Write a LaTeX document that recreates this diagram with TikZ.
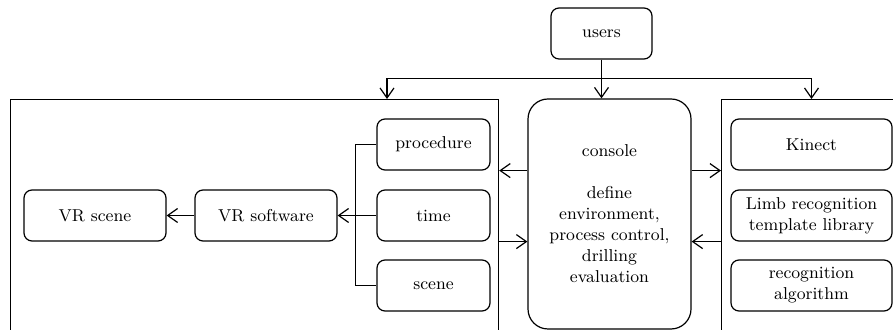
\documentclass[tikz,border=0pt]{standalone}
\usetikzlibrary{arrows.meta, positioning, calc}

\begin{document}
\begin{tikzpicture}[x=0.5pt, y=-0.5pt, line width=0.6pt,
    font=\fontsize{8.6}{10.5}\selectfont,
    box/.style={draw, rounded corners=4pt, minimum width=56.5pt, minimum height=25.5pt, inner sep=1pt, align=center},
    vrbox/.style={box, minimum width=71pt},
    kbox/.style={box, minimum width=80.5pt},
    panel/.style={draw, anchor=north west, inner sep=0pt, minimum height=150pt},
    arr/.style={-{Straight Barb[length=5pt,width=7pt]}}]
    \clip (0,0) rectangle (893,330);

    % the two side frames run past the bottom edge
    \node[panel, minimum width=244pt] (vrpanel) at (10,99) {};
    \node[panel, minimum width=120pt] (kpanel) at (721,99) {};

    \node[box, minimum width=50.5pt] (users) at (601.5,33.5) {users};
    \node[draw, rounded corners=10pt, minimum width=81.5pt, minimum height=115pt, align=center] (console) at (609.5,214)
        {console\\[10.5pt]define\\environment,\\process control,\\drilling\\evaluation};

    % VR side
    \node[box] (procedure) at (433.5,144.5) {procedure};
    \node[box] (time) at (433.5,215.5) {time};
    \node[box] (scene) at (433.5,285.5) {scene};
    \node[vrbox] (vrsoft) at (266,215.5) {VR software};
    \node[vrbox] (vrscene) at (95,215.5) {VR scene};

    % Kinect side
    \node[kbox] (kinect) at (811.5,144.5) {Kinect};
    \node[kbox] (limb) at (811.5,215.5) {Limb recognition\\template library};
    \node[kbox] (algo) at (811.5,285.5) {recognition\\algorithm};

    % users fan out
    \coordinate (hub) at ($(users.south)+(0,19)$);
    \coordinate (vrin) at (387,99);
    \draw (users.south) -- (hub);
    \draw[arr] (hub) -- (hub |- console.north);
    \draw[arr] (hub) -| (vrin);
    \draw[arr] (hub) -| (kinect.north |- kpanel.north);

    % console <-> frames
    \draw[arr] (console.west |- procedure.south) -- (vrpanel.east |- procedure.south);
    \draw[arr] (vrpanel.east |- time.south) -- (console.west |- time.south);
    \draw[arr] (console.east |- kinect.south) -- (kpanel.west |- kinect.south);
    \draw[arr] (kpanel.west |- limb.south) -- (console.east |- limb.south);

    % settings feed the VR software
    \draw (procedure.west) -| ($(time.west)+(-21,0)$) |- (scene.west);
    \draw[arr] (time.west) -- (vrsoft.east);
    \draw[arr] (vrsoft.west) -- (vrscene.east);
\end{tikzpicture}
\end{document}
